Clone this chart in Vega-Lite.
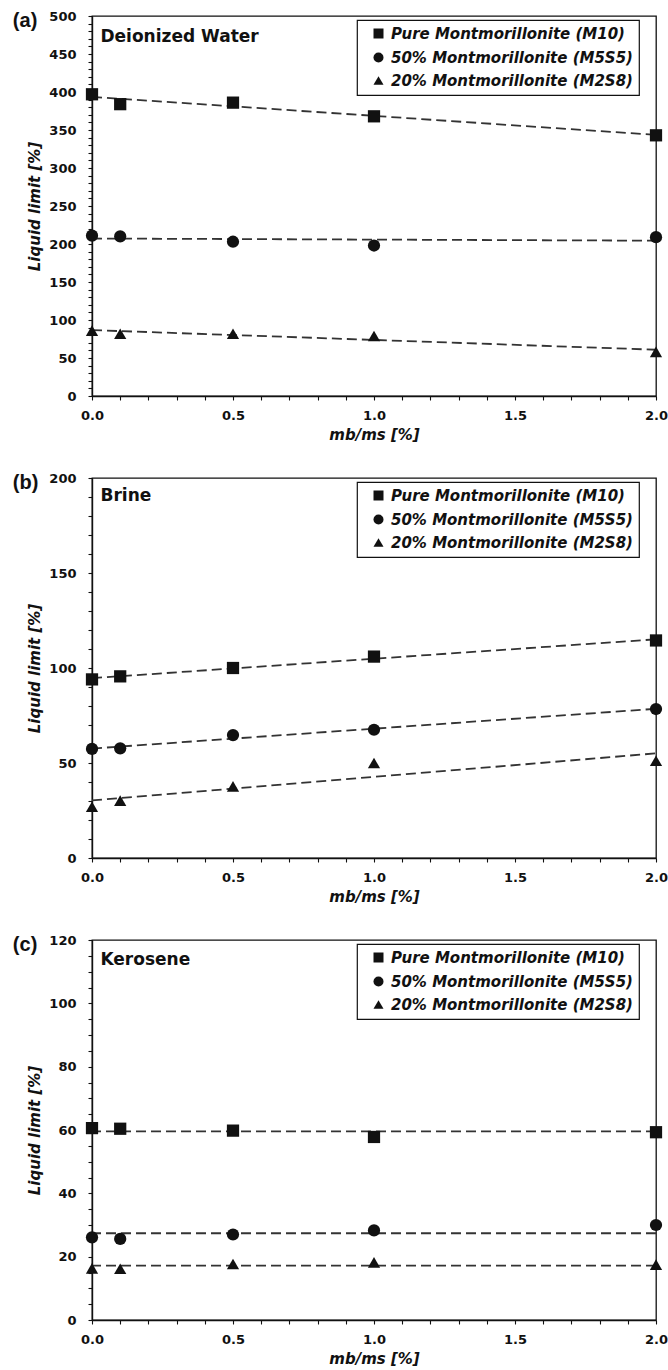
{
  "$schema": "https://vega.github.io/schema/vega-lite/v6.json",
  "padding": {"left": 12, "top": 9, "right": 0, "bottom": 0},
  "background": "white",
  "spacing": 28,
  "config": {
    "view": {"stroke": "#111", "strokeWidth": 1.3},
    "axis": {
      "grid": false, "domainColor": "#111", "domainWidth": 1.4, "tickColor": "#111", "tickWidth": 1.1, "tickSize": 4,
      "labelFont": "DejaVu Sans", "labelFontWeight": "bold", "labelFontSize": 13, "labelColor": "#111", "labelOverlap": false,
      "titleFont": "DejaVu Sans", "titleFontWeight": "bold", "titleFontStyle": "italic", "titleFontSize": 15, "titleColor": "#111"
    },
    "axisX": {"labelPadding": 9, "titlePadding": 5, "labelFlush": false},
    "axisY": {"labelPadding": 12, "titlePadding": 6},
    "legend": {
      "orient": "none", "legendX": 265, "legendY": 4, "padding": 6, "strokeColor": "#111", "strokeWidth": 1.2, "fillColor": "white",
      "labelFont": "DejaVu Sans", "labelFontSize": 15, "labelFontStyle": "italic", "labelFontWeight": "bold", "labelColor": "#111",
      "labelLimit": 400, "symbolSize": 100, "symbolOffset": 8, "labelOffset": 5, "rowPadding": 7, "symbolFillColor": "#111", "symbolStrokeColor": "#111", "title": null
    },
    "title": {"anchor": "start", "frame": "bounds", "font": "Liberation Sans", "fontSize": 20, "fontWeight": "bold", "color": "#111", "offset": -21, "baseline": "middle", "dx": -15}
  },
  "resolve": {"scale": {"shape": "independent", "x": "independent", "y": "independent"}, "legend": {"shape": "independent"}},
  "datasets": {
    "a": [
      {"mix": "Pure Montmorillonite (M10)", "mbms": 0.0, "LL": 397},
      {"mix": "Pure Montmorillonite (M10)", "mbms": 0.1, "LL": 384},
      {"mix": "Pure Montmorillonite (M10)", "mbms": 0.5, "LL": 386},
      {"mix": "Pure Montmorillonite (M10)", "mbms": 1.0, "LL": 368},
      {"mix": "Pure Montmorillonite (M10)", "mbms": 2.0, "LL": 343},
      {"mix": "50% Montmorillonite (M5S5)", "mbms": 0.0, "LL": 211},
      {"mix": "50% Montmorillonite (M5S5)", "mbms": 0.1, "LL": 210},
      {"mix": "50% Montmorillonite (M5S5)", "mbms": 0.5, "LL": 203},
      {"mix": "50% Montmorillonite (M5S5)", "mbms": 1.0, "LL": 198},
      {"mix": "50% Montmorillonite (M5S5)", "mbms": 2.0, "LL": 209},
      {"mix": "20% Montmorillonite (M2S8)", "mbms": 0.0, "LL": 86},
      {"mix": "20% Montmorillonite (M2S8)", "mbms": 0.1, "LL": 82},
      {"mix": "20% Montmorillonite (M2S8)", "mbms": 0.5, "LL": 82},
      {"mix": "20% Montmorillonite (M2S8)", "mbms": 1.0, "LL": 79},
      {"mix": "20% Montmorillonite (M2S8)", "mbms": 2.0, "LL": 58}
    ],
    "b": [
      {"mix": "Pure Montmorillonite (M10)", "mbms": 0.0, "LL": 94},
      {"mix": "Pure Montmorillonite (M10)", "mbms": 0.1, "LL": 95.6},
      {"mix": "Pure Montmorillonite (M10)", "mbms": 0.5, "LL": 100},
      {"mix": "Pure Montmorillonite (M10)", "mbms": 1.0, "LL": 106},
      {"mix": "Pure Montmorillonite (M10)", "mbms": 2.0, "LL": 114.5},
      {"mix": "50% Montmorillonite (M5S5)", "mbms": 0.0, "LL": 57.4},
      {"mix": "50% Montmorillonite (M5S5)", "mbms": 0.1, "LL": 57.7},
      {"mix": "50% Montmorillonite (M5S5)", "mbms": 0.5, "LL": 64.7},
      {"mix": "50% Montmorillonite (M5S5)", "mbms": 1.0, "LL": 67.5},
      {"mix": "50% Montmorillonite (M5S5)", "mbms": 2.0, "LL": 78.4},
      {"mix": "20% Montmorillonite (M2S8)", "mbms": 0.0, "LL": 27},
      {"mix": "20% Montmorillonite (M2S8)", "mbms": 0.1, "LL": 30.2},
      {"mix": "20% Montmorillonite (M2S8)", "mbms": 0.5, "LL": 37.7},
      {"mix": "20% Montmorillonite (M2S8)", "mbms": 1.0, "LL": 50},
      {"mix": "20% Montmorillonite (M2S8)", "mbms": 2.0, "LL": 51.2}
    ],
    "c": [
      {"mix": "Pure Montmorillonite (M10)", "mbms": 0.0, "LL": 60.6},
      {"mix": "Pure Montmorillonite (M10)", "mbms": 0.1, "LL": 60.4},
      {"mix": "Pure Montmorillonite (M10)", "mbms": 0.5, "LL": 59.8},
      {"mix": "Pure Montmorillonite (M10)", "mbms": 1.0, "LL": 57.8},
      {"mix": "Pure Montmorillonite (M10)", "mbms": 2.0, "LL": 59.3},
      {"mix": "50% Montmorillonite (M5S5)", "mbms": 0.0, "LL": 26.1},
      {"mix": "50% Montmorillonite (M5S5)", "mbms": 0.1, "LL": 25.6},
      {"mix": "50% Montmorillonite (M5S5)", "mbms": 0.5, "LL": 27},
      {"mix": "50% Montmorillonite (M5S5)", "mbms": 1.0, "LL": 28.3},
      {"mix": "50% Montmorillonite (M5S5)", "mbms": 2.0, "LL": 30},
      {"mix": "20% Montmorillonite (M2S8)", "mbms": 0.0, "LL": 16.3},
      {"mix": "20% Montmorillonite (M2S8)", "mbms": 0.1, "LL": 16.2},
      {"mix": "20% Montmorillonite (M2S8)", "mbms": 0.5, "LL": 17.7},
      {"mix": "20% Montmorillonite (M2S8)", "mbms": 1.0, "LL": 18.2},
      {"mix": "20% Montmorillonite (M2S8)", "mbms": 2.0, "LL": 17.5}
    ]
  },
  "vconcat": [
    {
      "width": 564, "height": 380,
      "title": {"text": "(a)"},
      "data": {"name": "a"},
      "encoding": {
        "x": {"field": "mbms", "type": "quantitative", "title": "mb/ms [%]", "scale": {"domain": [0, 2], "nice": false},
              "axis": {"labelOverlap": false, "values": [0, 0.1, 0.2, 0.3, 0.4, 0.5, 0.6, 0.7, 0.8, 0.9, 1, 1.1, 1.2, 1.3, 1.4, 1.5, 1.6, 1.7, 1.8, 1.9, 2],
                       "labelExpr": "abs(datum.value*2 - round(datum.value*2)) < 0.001 ? format(datum.value, '.1f') : ''"}},
        "y": {"field": "LL", "type": "quantitative", "title": "Liquid limit [%]", "scale": {"domain": [0, 500], "nice": false},
              "axis": {"labelOverlap": false, "values": [0,10,20,30,40,50,60,70,80,90,100,110,120,130,140,150,160,170,180,190,200,210,220,230,240,250,260,270,280,290,300,310,320,330,340,350,360,370,380,390,400,410,420,430,440,450,460,470,480,490,500],
                       "labelExpr": "datum.value % 50 === 0 ? format(datum.value, 'd') : ''"}}
      },
      "layer": [
        {
          "transform": [{"regression": "LL", "on": "mbms", "groupby": ["mix"], "extent": [0, 2]}],
          "mark": {"type": "line", "strokeDash": [10, 5], "color": "#333", "strokeWidth": 1.8},
          "encoding": {"detail": {"field": "mix"}}
        },
        {
          "mark": {"type": "point", "filled": true, "color": "#111", "opacity": 1, "size": 150},
          "encoding": {
            "shape": {"field": "mix", "type": "nominal", "sort": null,
                      "scale": {"domain": ["Pure Montmorillonite (M10)", "50% Montmorillonite (M5S5)", "20% Montmorillonite (M2S8)"], "range": ["square", "circle", "triangle-up"]}}
          }
        },
        {
          "data": {"values": [{"label": "Deionized Water", "mbms": 0.03, "LL": 466}]},
          "mark": {"type": "text", "align": "left", "baseline": "alphabetic", "font": "DejaVu Sans", "fontWeight": "bold", "fontSize": 17, "color": "#111"},
          "encoding": {"text": {"field": "label"}}
        }
      ]
    },
    {
      "width": 564, "height": 380,
      "title": {"text": "(b)"},
      "data": {"name": "b"},
      "encoding": {
        "x": {"field": "mbms", "type": "quantitative", "title": "mb/ms [%]", "scale": {"domain": [0, 2], "nice": false},
              "axis": {"labelOverlap": false, "values": [0, 0.1, 0.2, 0.3, 0.4, 0.5, 0.6, 0.7, 0.8, 0.9, 1, 1.1, 1.2, 1.3, 1.4, 1.5, 1.6, 1.7, 1.8, 1.9, 2],
                       "labelExpr": "abs(datum.value*2 - round(datum.value*2)) < 0.001 ? format(datum.value, '.1f') : ''"}},
        "y": {"field": "LL", "type": "quantitative", "title": "Liquid limit [%]", "scale": {"domain": [0, 200], "nice": false},
              "axis": {"labelOverlap": false, "values": [0,10,20,30,40,50,60,70,80,90,100,110,120,130,140,150,160,170,180,190,200],
                       "labelExpr": "datum.value % 50 === 0 ? format(datum.value, 'd') : ''"}}
      },
      "layer": [
        {
          "transform": [{"regression": "LL", "on": "mbms", "groupby": ["mix"], "extent": [0, 2]}],
          "mark": {"type": "line", "strokeDash": [10, 5], "color": "#333", "strokeWidth": 1.8},
          "encoding": {"detail": {"field": "mix"}}
        },
        {
          "mark": {"type": "point", "filled": true, "color": "#111", "opacity": 1, "size": 150},
          "encoding": {
            "shape": {"field": "mix", "type": "nominal", "sort": null,
                      "scale": {"domain": ["Pure Montmorillonite (M10)", "50% Montmorillonite (M5S5)", "20% Montmorillonite (M2S8)"], "range": ["square", "circle", "triangle-up"]}}
          }
        },
        {
          "data": {"values": [{"label": "Brine", "mbms": 0.03, "LL": 188}]},
          "mark": {"type": "text", "align": "left", "baseline": "alphabetic", "font": "DejaVu Sans", "fontWeight": "bold", "fontSize": 17, "color": "#111"},
          "encoding": {"text": {"field": "label"}}
        }
      ]
    },
    {
      "width": 564, "height": 380,
      "title": {"text": "(c)"},
      "data": {"name": "c"},
      "layer": [
        {
          "mark": {"type": "rule", "strokeDash": [10, 5], "color": "#333", "strokeWidth": 1.8},
          "encoding": {
            "y": {"field": "LL", "aggregate": "mean", "type": "quantitative", "title": "Liquid limit [%]", "scale": {"domain": [0, 120], "nice": false},
                  "axis": {"labelOverlap": false, "values": [0,5,10,15,20,25,30,35,40,45,50,55,60,65,70,75,80,85,90,95,100,105,110,115,120],
                           "labelExpr": "datum.value % 20 === 0 ? format(datum.value, 'd') : ''"}},
            "detail": {"field": "mix"}
          }
        },
        {
          "mark": {"type": "point", "filled": true, "color": "#111", "opacity": 1, "size": 150},
          "encoding": {
            "x": {"field": "mbms", "type": "quantitative", "title": "mb/ms [%]", "scale": {"domain": [0, 2], "nice": false},
                  "axis": {"labelOverlap": false, "values": [0, 0.1, 0.2, 0.3, 0.4, 0.5, 0.6, 0.7, 0.8, 0.9, 1, 1.1, 1.2, 1.3, 1.4, 1.5, 1.6, 1.7, 1.8, 1.9, 2],
                           "labelExpr": "abs(datum.value*2 - round(datum.value*2)) < 0.001 ? format(datum.value, '.1f') : ''"}},
            "y": {"field": "LL", "type": "quantitative", "title": "Liquid limit [%]", "scale": {"domain": [0, 120], "nice": false},
                  "axis": {"labelOverlap": false, "values": [0,5,10,15,20,25,30,35,40,45,50,55,60,65,70,75,80,85,90,95,100,105,110,115,120],
                           "labelExpr": "datum.value % 20 === 0 ? format(datum.value, 'd') : ''"}},
            "shape": {"field": "mix", "type": "nominal", "sort": null,
                      "scale": {"domain": ["Pure Montmorillonite (M10)", "50% Montmorillonite (M5S5)", "20% Montmorillonite (M2S8)"], "range": ["square", "circle", "triangle-up"]}}
          }
        },
        {
          "data": {"values": [{"label": "Kerosene", "mbms": 0.03, "LL": 112}]},
          "mark": {"type": "text", "align": "left", "baseline": "alphabetic", "font": "DejaVu Sans", "fontWeight": "bold", "fontSize": 17, "color": "#111"},
          "encoding": {
            "x": {"field": "mbms", "type": "quantitative", "title": "mb/ms [%]", "scale": {"domain": [0, 2], "nice": false},
                  "axis": {"labelOverlap": false, "values": [0, 0.1, 0.2, 0.3, 0.4, 0.5, 0.6, 0.7, 0.8, 0.9, 1, 1.1, 1.2, 1.3, 1.4, 1.5, 1.6, 1.7, 1.8, 1.9, 2],
                           "labelExpr": "abs(datum.value*2 - round(datum.value*2)) < 0.001 ? format(datum.value, '.1f') : ''"}},
            "y": {"field": "LL", "type": "quantitative", "title": "Liquid limit [%]", "scale": {"domain": [0, 120], "nice": false},
                  "axis": {"labelOverlap": false, "values": [0,5,10,15,20,25,30,35,40,45,50,55,60,65,70,75,80,85,90,95,100,105,110,115,120],
                           "labelExpr": "datum.value % 20 === 0 ? format(datum.value, 'd') : ''"}},
            "text": {"field": "label"}
          }
        }
      ]
    }
  ]
}
